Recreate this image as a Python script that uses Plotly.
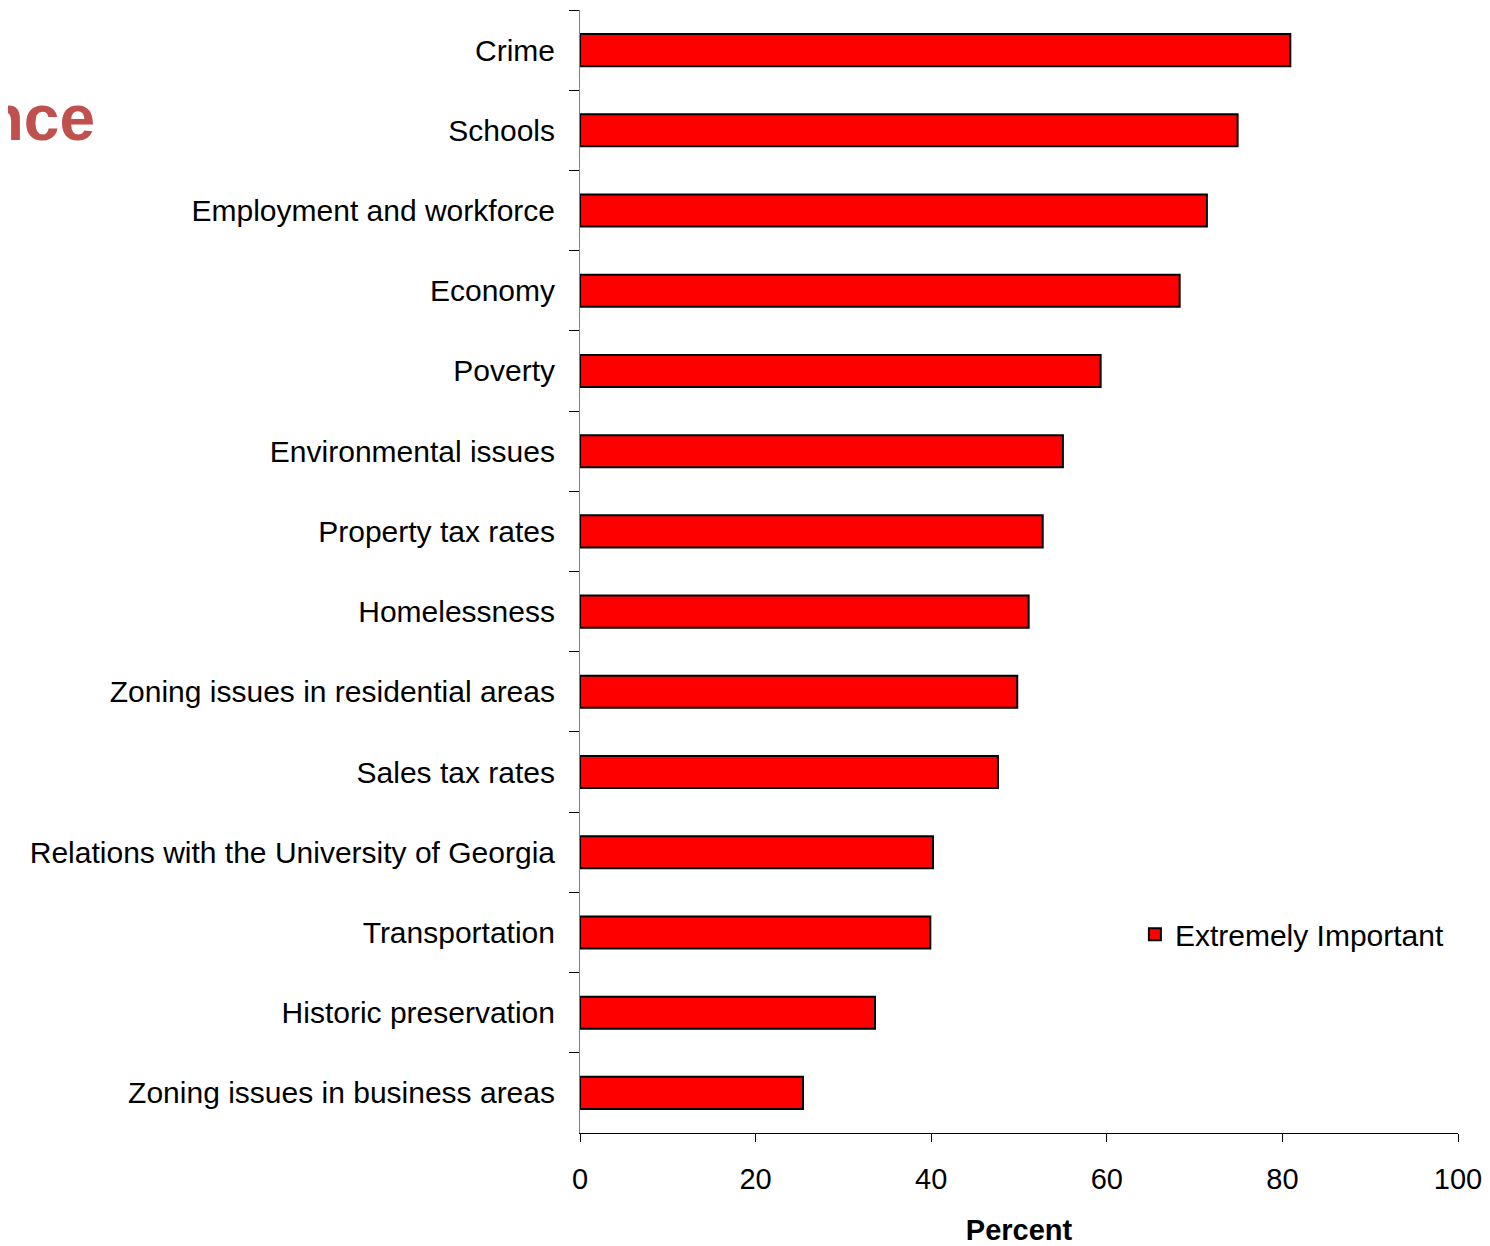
import plotly.graph_objects as go

categories = [
    "Crime",
    "Schools",
    "Employment and workforce",
    "Economy",
    "Poverty",
    "Environmental issues",
    "Property tax rates",
    "Homelessness",
    "Zoning issues in residential areas",
    "Sales tax rates",
    "Relations with the University of Georgia",
    "Transportation",
    "Historic preservation",
    "Zoning issues in business areas",
]
extremely_important = [80.9, 74.9, 71.4, 68.3, 59.3, 55.0, 52.7, 51.1, 49.8, 47.6, 40.2, 39.9, 33.6, 25.4]
x_ticks = [0, 20, 40, 60, 80, 100]

FONT = "Liberation Sans, Arial, sans-serif"

fig = go.Figure()
fig.add_trace(go.Bar(
    y=categories,
    x=extremely_important,
    orientation="h",
    name="Extremely Important",
    marker=dict(color="#FF0000", line=dict(color="#000000", width=2)),
    width=0.4,
))

fig.update_layout(
    width=1482,
    height=1238,
    margin=dict(l=572, r=32, t=2, b=113),
    paper_bgcolor="white",
    plot_bgcolor="white",
    font=dict(family=FONT, size=28, color="black"),
    showlegend=True,
    legend=dict(
        x=0.632, y=0.177, xanchor="left", yanchor="middle",
        bgcolor="rgba(0,0,0,0)", font=dict(size=30),
    ),
    xaxis=dict(
        range=[0, 100],
        tickvals=x_ticks,
        ticks="outside",
        ticklen=8,
        tickcolor="black",
        tickfont=dict(size=29),
        showline=True,
        linecolor="black",
        linewidth=1,
        showgrid=False,
        zeroline=False,
        ticklabelstandoff=12,
        title=dict(text="<b>Percent</b>", font=dict(size=29), standoff=28),
    ),
    yaxis=dict(
        categoryorder="array",
        categoryarray=categories,
        autorange="reversed",
        tickson="boundaries",
        ticks="outside",
        ticklen=10,
        tickcolor="black",
        tickfont=dict(size=30),
        showline=True,
        linecolor="#808080",
        linewidth=1,
        showgrid=False,
        zeroline=False,
        ticklabelstandoff=18,
    ),
    annotations=[dict(
        text="<b>Importance</b>",
        xref="paper", yref="paper",
        x=-0.5501, y=0.9038,
        xanchor="right", yanchor="middle",
        showarrow=False,
        font=dict(family=FONT, size=64, color="#C0504D"),
    )],
)

fig.write_html("out.html")
